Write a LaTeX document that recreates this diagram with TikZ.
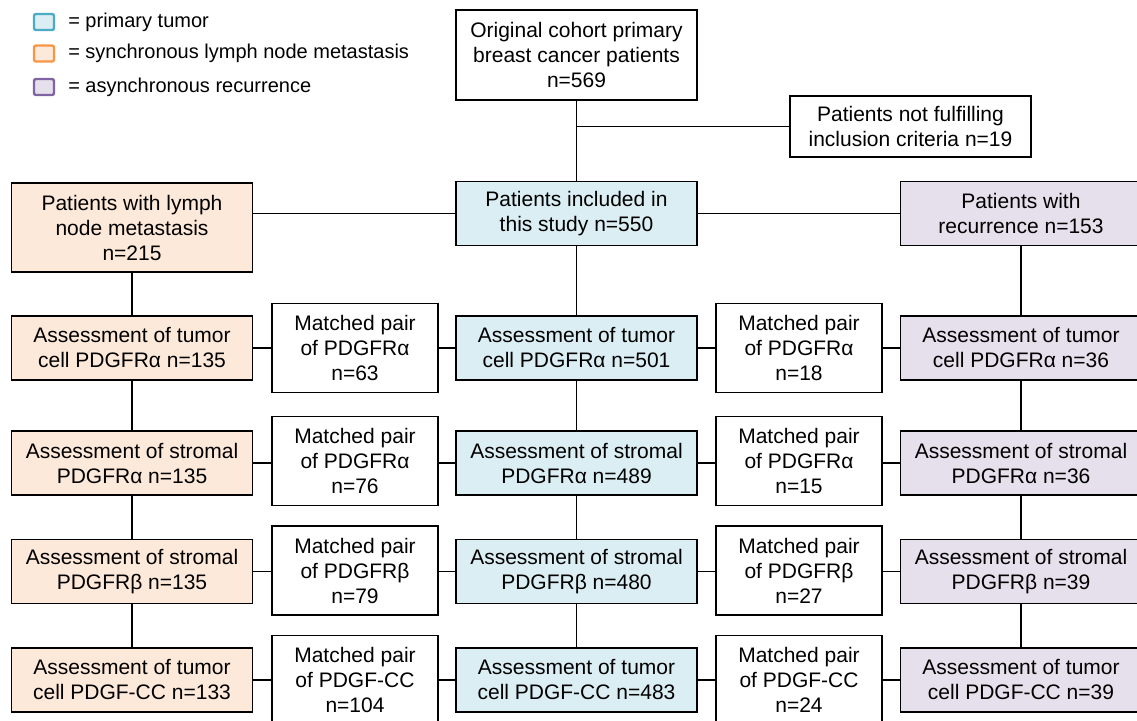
\documentclass[tikz,border=0pt]{standalone}
\usepackage{fontspec}
\setmainfont{Liberation Sans}
\usetikzlibrary{positioning}
\definecolor{tumorfill}{HTML}{DBEEF3}
\definecolor{lymphfill}{HTML}{FDE9D9}
\definecolor{recfill}{HTML}{E5E0EC}
\definecolor{tumorline}{HTML}{4BACC6}
\definecolor{lymphline}{HTML}{F79646}
\definecolor{recline}{HTML}{8064A2}
\tikzset{
  box/.style={draw=black, line width=0.8pt, align=center, inner sep=0pt,
    minimum width=120.5pt, minimum height=32pt,
    font=\fontsize{10.5}{12.5}\selectfont},
  tumorbox/.style={box, fill=tumorfill},
  lymphbox/.style={box, fill=lymphfill},
  recbox/.style={box, fill=recfill},
  pairbox/.style={box, minimum width=83pt, minimum height=44.5pt},
  link/.style={line width=0.7pt},
  keybox/.style={draw=#1, line width=1.2pt, rounded corners=1pt,
    minimum width=10pt, minimum height=8pt, inner sep=0pt},
  keytext/.style={font=\fontsize{10}{12}\selectfont}
}
\begin{document}
\begin{tikzpicture}[x=0.5pt, y=-0.5pt]
  \useasboundingbox (0,0) rectangle (1137,721);

  % legend %
  \node[keybox=tumorline, fill=tumorfill] (keyt) at (44,22) {};
  \node[keybox=lymphline, fill=lymphfill] (keyl) at (44,53.5) {};
  \node[keybox=recline, fill=recfill] (keyr) at (44,87) {};
  \node[keytext, right=3pt of keyt] (keyttext) {= primary tumor};
  \node[keytext, right=3pt of keyl] (keyltext) {= synchronous lymph node metastasis};
  \node[keytext, right=3pt of keyr] (keyrtext) {= asynchronous recurrence};

  % nodes %
  \node[box, minimum height=45pt] (cohort) at (576.5,55) {Original cohort primary\\breast cancer patients\\n=569};
  \node[box, minimum height=30.5pt] (excl) at (910.5,126.5) {Patients not fulfilling\\inclusion criteria n=19};
  \node[lymphbox, minimum height=44.5pt] (lymph) at (132,227.5) {Patients with lymph\\node metastasis\\n=215};
  \node[tumorbox] (incl) at (576.5,213.5) {Patients included in\\this study n=550};
  \node[recbox] (recur) at (1021,213.5) {Patients with\\recurrence n=153};

  % row a: tumor cell PDGFRa
  \node[lymphbox] (lna) at (132,348) {Assessment of tumor\\cell PDGFRα n=135};
  \node[pairbox] (mla) at (355,348) {Matched pair\\of PDGFRα\\n=63};
  \node[tumorbox] (pta) at (576.5,348) {Assessment of tumor\\cell PDGFRα n=501};
  \node[pairbox] (mra) at (799,348) {Matched pair\\of PDGFRα\\n=18};
  \node[recbox] (rca) at (1021,348) {Assessment of tumor\\cell PDGFRα n=36};

  % row b: stromal PDGFRa
  \node[lymphbox] (lnb) at (132,463) {Assessment of stromal\\PDGFRα n=135};
  \node[pairbox] (mlb) at (355,461) {Matched pair\\of PDGFRα\\n=76};
  \node[tumorbox] (ptb) at (576.5,463) {Assessment of stromal\\PDGFRα n=489};
  \node[pairbox] (mrb) at (799,461) {Matched pair\\of PDGFRα\\n=15};
  \node[recbox] (rcb) at (1021,463) {Assessment of stromal\\PDGFRα n=36};

  % row c: stromal PDGFRb
  \node[lymphbox] (lnc) at (132,571.5) {Assessment of stromal\\PDGFRβ n=135};
  \node[pairbox] (mlc) at (355,570.5) {Matched pair\\of PDGFRβ\\n=79};
  \node[tumorbox] (ptc) at (576.5,571.5) {Assessment of stromal\\PDGFRβ n=480};
  \node[pairbox] (mrc) at (799,570.5) {Matched pair\\of PDGFRβ\\n=27};
  \node[recbox] (rcc) at (1021,571.5) {Assessment of stromal\\PDGFRβ n=39};

  % row d: tumor cell PDGF-CC
  \node[lymphbox] (lnd) at (132,680) {Assessment of tumor\\cell PDGF-CC n=133};
  \node[pairbox] (mld) at (355,680) {Matched pair\\of PDGF-CC\\n=104};
  \node[tumorbox] (ptd) at (576.5,680) {Assessment of tumor\\cell PDGF-CC n=483};
  \node[pairbox] (mrd) at (799,680) {Matched pair\\of PDGF-CC\\n=24};
  \node[recbox] (rcd) at (1021,680) {Assessment of tumor\\cell PDGF-CC n=39};

  % edges %
  \draw[link] (cohort) -- (incl);
  \draw[link] (excl.west) -- (excl.west -| cohort.south);
  \draw[link] (incl.west) -- (incl.west -| lymph.east);
  \draw[link] (incl) -- (recur);
  \draw[link] (lymph) -- (lna) -- (lnb) -- (lnc) -- (lnd);
  \draw[link] (incl) -- (pta) -- (ptb) -- (ptc) -- (ptd);
  \draw[link] (recur) -- (rca) -- (rcb) -- (rcc) -- (rcd);
  \draw[link] (lna.east) -- (mla.west |- lna.east);
  \draw[link] (mla.east |- pta.west) -- (pta.west);
  \draw[link] (pta.east) -- (mra.west |- pta.east);
  \draw[link] (mra.east |- rca.west) -- (rca.west);
  \draw[link] (lnb.east) -- (mlb.west |- lnb.east);
  \draw[link] (mlb.east |- ptb.west) -- (ptb.west);
  \draw[link] (ptb.east) -- (mrb.west |- ptb.east);
  \draw[link] (mrb.east |- rcb.west) -- (rcb.west);
  \draw[link] (lnc.east) -- (mlc.west |- lnc.east);
  \draw[link] (mlc.east |- ptc.west) -- (ptc.west);
  \draw[link] (ptc.east) -- (mrc.west |- ptc.east);
  \draw[link] (mrc.east |- rcc.west) -- (rcc.west);
  \draw[link] (lnd.east) -- (mld.west |- lnd.east);
  \draw[link] (mld.east |- ptd.west) -- (ptd.west);
  \draw[link] (ptd.east) -- (mrd.west |- ptd.east);
  \draw[link] (mrd.east |- rcd.west) -- (rcd.west);
\end{tikzpicture}
\end{document}
